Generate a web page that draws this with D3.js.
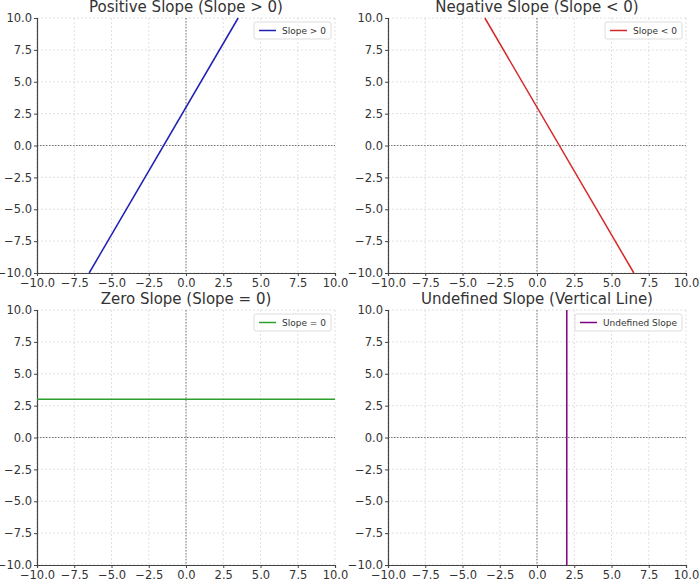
<!DOCTYPE html>
<html>
<head>
<meta charset="utf-8">
<script src="https://cdn.jsdelivr.net/npm/d3@7"></script>
<style>
  body { margin: 0; background: #fff; }
  text { font-family: "DejaVu Sans", sans-serif; }
</style>
</head>
<body>
<div id="chart"></div>
<script>
// Chart data
const titles = [
  "Positive Slope (Slope > 0)",
  "Negative Slope (Slope < 0)",
  "Zero Slope (Slope = 0)",
  "Undefined Slope (Vertical Line)",
];
const legendLabels = ["Slope > 0", "Slope < 0", "Slope = 0", "Undefined Slope"];
const lineColors = ["#1f1fb4", "#d62728", "#2ca02c", "#800080"];
// each line as two endpoints [x, y]
const lineEnds = [
  [[-6.5, -10], [3.5, 10]],
  [[-3.5, 10], [6.5, -10]],
  [[-10, 3], [10, 3]],
  [[2, -10], [2, 10]],
];
const ticks = [-10, -7.5, -5, -2.5, 0, 2.5, 5, 7.5, 10];

const svg = d3.select("#chart").append("svg").attr("width", 700).attr("height", 582);

const panelW = 298;
const panelH = 255;
const origins = [[37, 18], [388, 18], [37, 310], [388, 310]];

titles.forEach((title, i) => {
  const [ox, oy] = origins[i];
  const g = svg.append("g").attr("transform", `translate(${ox},${oy})`);
  const x = d3.scaleLinear().domain([-10, 10]).range([0, panelW]);
  const y = d3.scaleLinear().domain([-10, 10]).range([panelH, 0]);

  // grid
  g.selectAll("line.gx").data(ticks).enter().append("line")
    .attr("x1", (d) => x(d)).attr("x2", (d) => x(d))
    .attr("y1", 0).attr("y2", panelH)
    .attr("stroke", "#d8d8d8").attr("stroke-dasharray", "2,2").attr("stroke-width", 0.8);
  g.selectAll("line.gy").data(ticks).enter().append("line")
    .attr("y1", (d) => y(d)).attr("y2", (d) => y(d))
    .attr("x1", 0).attr("x2", panelW)
    .attr("stroke", "#d8d8d8").attr("stroke-dasharray", "2,2").attr("stroke-width", 0.8);

  // zero lines
  g.append("line").attr("x1", x(0)).attr("x2", x(0)).attr("y1", 0).attr("y2", panelH)
    .attr("stroke", "#777").attr("stroke-dasharray", "1.5,1.5").attr("stroke-width", 1);
  g.append("line").attr("y1", y(0)).attr("y2", y(0)).attr("x1", 0).attr("x2", panelW)
    .attr("stroke", "#777").attr("stroke-dasharray", "1.5,1.5").attr("stroke-width", 1);

  // axes
  const xAxis = g.append("g").attr("transform", `translate(0,${panelH})`)
    .call(d3.axisBottom(x).tickValues(ticks).tickFormat(d3.format(".1f")).tickSize(3));
  const yAxis = g.append("g")
    .call(d3.axisLeft(y).tickValues(ticks).tickFormat(d3.format(".1f")).tickSize(3));
  [xAxis, yAxis].forEach((a) => {
    a.select(".domain").attr("stroke", "#444").attr("stroke-width", 1.2);
    a.selectAll(".tick line").attr("stroke", "#444");
    a.selectAll("text").attr("font-size", 11.5).attr("fill", "#333")
      .attr("font-family", "DejaVu Sans, sans-serif");
  });
  yAxis.selectAll("text").attr("x", -5);

  // data line
  g.append("path")
    .datum(lineEnds[i])
    .attr("d", d3.line().x((d) => x(d[0])).y((d) => y(d[1])))
    .attr("fill", "none").attr("stroke", lineColors[i]).attr("stroke-width", 1.5);

  // title
  g.append("text").attr("x", panelW / 2).attr("y", -6)
    .attr("text-anchor", "middle").attr("font-size", 15).attr("fill", "#333").text(title);

  // legend
  const lg = g.append("g");
  const lt = lg.append("text").attr("x", 28).attr("y", 12).attr("font-size", 9)
    .attr("fill", "#333").text(legendLabels[i]);
  const lw = lt.node().getComputedTextLength() + 33;
  lg.attr("transform", `translate(${panelW - lw - 4},4)`);
  lg.insert("rect", "text").attr("width", lw).attr("height", 17).attr("rx", 2)
    .attr("fill", "#fff").attr("stroke", "#ddd");
  lg.append("line").attr("x1", 5).attr("x2", 22).attr("y1", 8.5).attr("y2", 8.5)
    .attr("stroke", lineColors[i]).attr("stroke-width", 1.5);
});
</script>
</body>
</html>
